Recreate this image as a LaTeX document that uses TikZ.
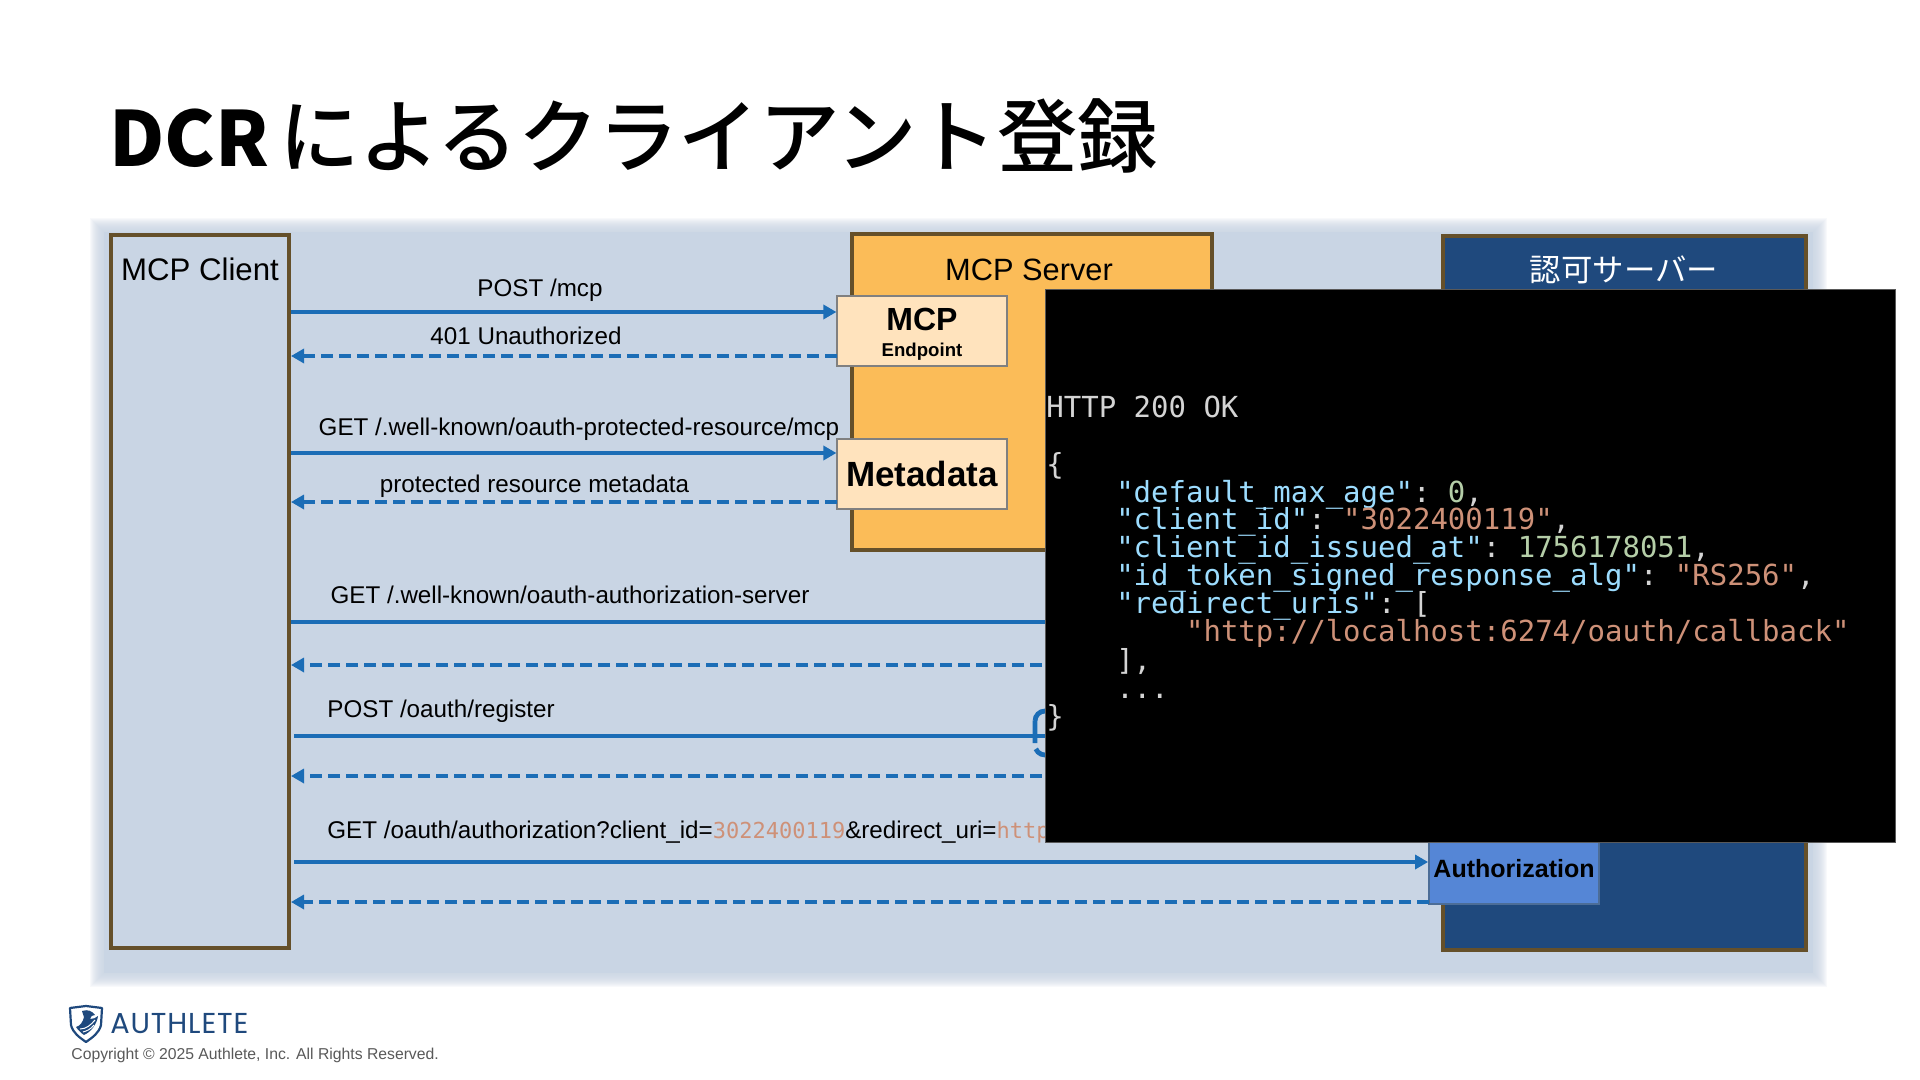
\documentclass[tikz,border=0pt]{standalone}
\usepackage{fontspec}
\usepackage{xcolor}
\usetikzlibrary{arrows.meta}
\setmainfont{Liberation Sans}
\setmonofont{DejaVu Sans Mono}
\newfontfamily\jpfont{Noto Sans CJK JP}
\newfontfamily\jptitlefont{Noto Sans CJK JP Medium}
\newfontfamily\logofont[LetterSpace=3]{Poppins}
\definecolor{panelblue}{HTML}{C9D5E4}
\definecolor{framebrown}{HTML}{65502A}
\definecolor{serverorange}{HTML}{FBBC58}
\definecolor{endpointcream}{HTML}{FFE3BD}
\definecolor{authnavy}{HTML}{1F497D}
\definecolor{authblue}{HTML}{5586D6}
\definecolor{linkblue}{HTML}{1B6DB6}
\definecolor{jsonkey}{HTML}{9CDCFE}
\definecolor{jsonstr}{HTML}{CE9178}
\definecolor{jsonnum}{HTML}{B5CEA8}
\definecolor{jsonplain}{HTML}{D4D4D4}
\tikzset{
	actorbox/.style={draw=framebrown, line width=2pt, inner sep=0pt},
	endpointbox/.style={draw=black!50, line width=0.6pt, fill=endpointcream, minimum width=85pt, minimum height=35pt, inner sep=0pt, font=\bfseries},
	reqline/.style={draw=linkblue, line width=2.4pt, -{Triangle[length=6.5pt,width=7pt]}},
	resline/.style={draw=linkblue, line width=2.4pt, dash pattern=on 6pt off 3pt, -{Triangle[length=6.5pt,width=7pt]}},
	plainline/.style={draw=linkblue, line width=2.4pt},
	msglabel/.style={font=\fontsize{12.1}{14}\selectfont, inner sep=0pt, anchor=base},
	jsonline/.style={font=\fontsize{14.5}{14}\ttfamily, anchor=base west, inner sep=0pt, text=jsonplain},
}
\newcommand{\jkey}[1]{\textcolor{jsonkey}{#1}}
\newcommand{\jstr}[1]{\textcolor{jsonstr}{#1}}
\newcommand{\jnum}[1]{\textcolor{jsonnum}{#1}}
\begin{document}
\begin{tikzpicture}[x=0.5pt, y=-0.5pt]
	\useasboundingbox (0,0) rectangle (1920,1080);
	\fill[white] (0,0) rectangle (1920,1080);

	% Title
	\node[anchor=west, inner sep=0pt] (title) at (109,136) {{\fontsize{38}{44}\selectfont\jpfont\bfseries DCR}\hspace{5pt}\fontsize{40.2}{44}\selectfont\jptitlefont によるクライアント登録};

	% Panel
	\foreach \d in {14,13,...,0}
		\fill[panelblue, opacity=0.12] (104-\d,232-\d) rectangle (1813+\d,973+\d);
	\fill[panelblue] (104,232) rectangle (1813,973);

	% Client
	\node[actorbox, fill=panelblue, minimum width=89pt, minimum height=356.5pt] (client) at (200,591.5) {};
	\node[font=\fontsize{15.6}{18}\selectfont, inner sep=0pt] (clientname) at (200,269) {MCP Client};

	% Server
	\node[actorbox, fill=serverorange, minimum width=180pt, minimum height=158pt] (server) at (1032,392) {};
	\node[font=\fontsize{15.4}{18}\selectfont, inner sep=0pt] (servername) at (1029,270) {MCP Server};
	\node[endpointbox] (endpoint) at (922,331) {};
	\node[font=\fontsize{16}{18}\bfseries, inner sep=0pt] (endpointname) at (922,319) {MCP};
	\node[font=\fontsize{9.3}{12}\bfseries, inner sep=0pt] (endpointsub) at (922,352) {Endpoint};
	\node[endpointbox, font=\fontsize{17.5}{20}\bfseries] (metadata) at (922,474) {Metadata};

	% Authorization server
	\node[actorbox, fill=authnavy, minimum width=181.5pt, minimum height=357pt] (authserver) at (1624.5,593) {};
	\node[font=\fontsize{15.7}{18}\selectfont\jpfont, text=white, inner sep=0pt] (authname) at (1624,270) {認可サーバー};
	\node[draw=authnavy!80!white, line width=0.9pt, fill=authblue, minimum width=85pt, minimum height=35pt, inner sep=0pt, font=\fontsize{12.5}{16}\bfseries] (authorization) at (1514,869) {Authorization};

	% Arrow ends
	\coordinate (post) at (291,312);
	\coordinate (unauth) at (837,356);
	\coordinate (getprm) at (291,453);
	\coordinate (prm) at (837,502);
	\coordinate (getas) at (291,622);
	\coordinate (getasend) at (1060,622);
	\coordinate (as) at (1060,665);
	\coordinate (reg) at (294,736);
	\coordinate (regend) at (1060,736);
	\coordinate (regres) at (1060,776);
	\coordinate (authz) at (294,862);
	\coordinate (authzres) at (1429,902);

	% Requests and responses
	\draw[reqline] (post) -- (post -| endpoint.west);
	\draw[resline] (unauth) -- (unauth -| client.east);
	\draw[reqline] (getprm) -- (getprm -| metadata.west);
	\draw[resline] (prm) -- (prm -| client.east);
	\draw[plainline] (getas) -- (getasend);
	\draw[resline] (as) -- (as -| client.east);
	\draw[plainline] (reg) -- (regend);
	\draw[resline] (regres) -- (regres -| client.east);
	\draw[reqline] (authz) -- (authz -| authorization.west);
	\draw[resline] (authzres) -- (authzres -| client.east);

	% Register marker
	\draw[linkblue, line width=2.4pt, dash pattern=on 11pt off 3pt, rounded corners=5pt] (1035,711) rectangle (1080,755);

	% Labels
	\node[msglabel] (postlabel) at (540,297) {POST /mcp};
	\node[msglabel] (unauthlabel) at (526,344) {401 Unauthorized};
	\node[msglabel] (getprmlabel) at (579,435) {GET /.well-known/oauth-protected-resource/mcp};
	\node[msglabel] (prmlabel) at (534.5,492) {protected resource metadata};
	\node[msglabel] (getaslabel) at (570,603) {GET /.well-known/oauth-authorization-server};
	\node[msglabel, anchor=base west] (reglabel) at (327,717) {POST /oauth/register};
	\node[msglabel, anchor=base west] (authzlabel) at (327,838) {GET /oauth/authorization?client\_id=\textcolor{jsonstr}{\fontsize{11}{14}\ttfamily 3022400119}\&redirect\_uri=\textcolor{jsonstr}{\fontsize{11}{14}\ttfamily http}};

	% Response window
	\node[draw=black!65, line width=0.6pt, fill=black, anchor=north west, minimum width=425pt, minimum height=276.5pt, inner sep=0pt] (window) at (1045,289) {};
	\node[jsonline] (l1) at (1046,417.5) {HTTP 200 OK};
	\node[jsonline] (l2) at (1046,474) {\{};
	\node[jsonline] (l3) at (1046,502) {\ \ \ \ \jkey{"default\_max\_age"}: \jnum{0},};
	\node[jsonline] (l4) at (1046,529.5) {\ \ \ \ \jkey{"client\_id"}: \jstr{"3022400119"},};
	\node[jsonline] (l5) at (1046,557.5) {\ \ \ \ \jkey{"client\_id\_issued\_at"}: \jnum{1756178051},};
	\node[jsonline] (l6) at (1046,585.5) {\ \ \ \ \jkey{"id\_token\_signed\_response\_alg"}: \jstr{"RS256"},};
	\node[jsonline] (l7) at (1046,613.5) {\ \ \ \ \jkey{"redirect\_uris"}: [};
	\node[jsonline] (l8) at (1046,641.5) {\ \ \ \ \ \ \ \ \jstr{"http://localhost:6274/oauth/callback"}};
	\node[jsonline] (l9) at (1046,670) {\ \ \ \ ],};
	\node[jsonline] (l10) at (1046,698) {\ \ \ \ ...};
	\node[jsonline] (l11) at (1046,726) {\}};

	% Logo
	\draw[authnavy, line width=1.1pt, fill=white, line join=round] (70,1008) -- (86,1006) -- (102,1008) -- (101,1025) .. controls (99,1033) and (93,1037) .. (86,1042) .. controls (79,1037) and (73,1033) .. (71,1025) -- cycle;
	\fill[authnavy] (82,1011) .. controls (88,1009) and (92,1011) .. (95,1015) .. controls (92,1015) and (91,1016) .. (90,1019) .. controls (93,1019) and (96,1018) .. (98,1016) .. controls (97,1024) and (91,1032) .. (84,1035) .. controls (81,1033) and (78,1030) .. (76,1027) .. controls (80,1026) and (83,1022) .. (84,1017) -- cycle;
	\draw[white, line width=0.5pt] (80,1029) .. controls (86,1029) and (91,1025) .. (95,1020);
	\draw[white, line width=0.5pt] (83,1032) .. controls (87,1031) and (91,1029) .. (94,1025);
	\node[anchor=west, inner sep=0pt, text=authnavy, font=\fontsize{14.4}{18}\logofont] (logo) at (110,1024) {AUTHLETE};
	\node[anchor=base west, inner sep=0pt, text=black!65, font=\fontsize{7.87}{10}\selectfont] (copyright) at (71,1059) {Copyright © 2025 Authlete, Inc. All Rights Reserved.};
\end{tikzpicture}
\end{document}
